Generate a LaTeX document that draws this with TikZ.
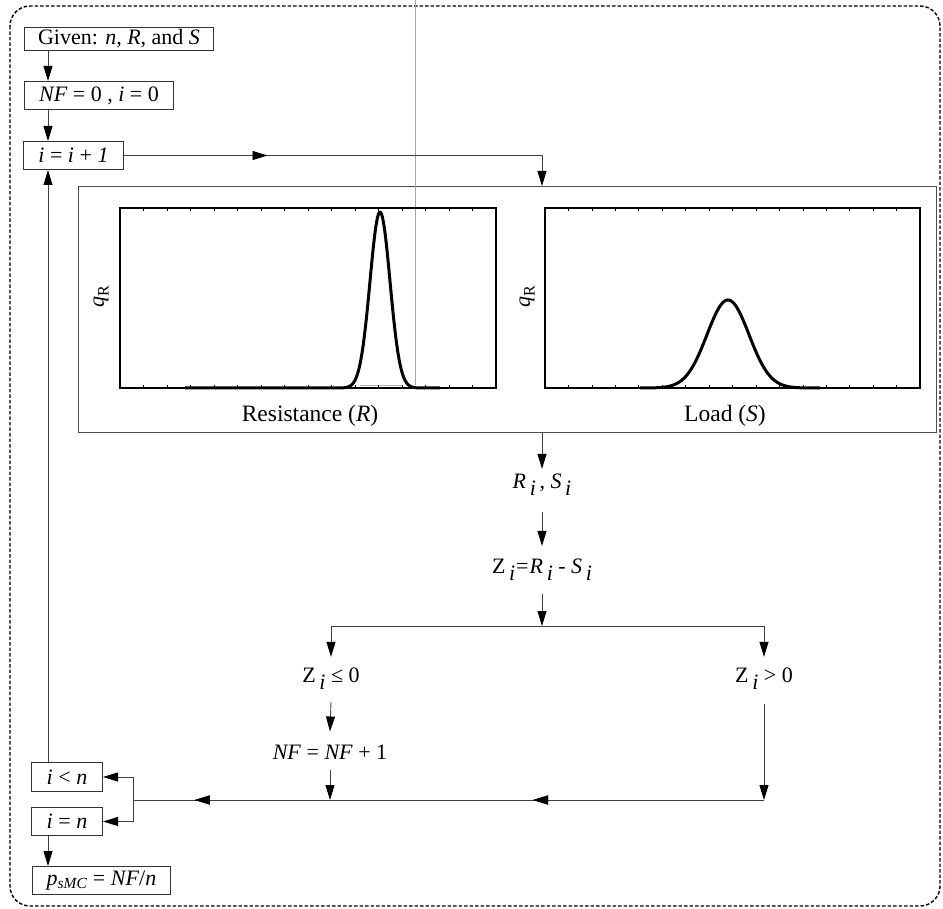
\documentclass[tikz,border=0pt]{standalone}
\usepackage{fontspec}
\setmainfont{Liberation Serif}
\usetikzlibrary{arrows.meta,decorations.markings}
\newcommand\fsz{\fontsize{22}{26}\selectfont}
\newcommand\loi{\raisebox{-0.33em}{\textit{i}}}
\newcommand\qlab{\textit{q}\raisebox{-0.22em}{\fontsize{16}{18}\selectfont R}}
\tikzset{
  tipA/.tip={Triangle[length=15pt,width=9pt,color=black]},
  conn/.style={draw=black!75, line width=0.9pt},
  arr/.style={conn, -tipA},
  fbox/.style={draw=black!80, line width=1pt, inner sep=0pt, font=\fsz, anchor=north west},
  lbl/.style={inner sep=0pt, font=\fsz},
  midarrow/.style={postaction={decorate}, decoration={markings, mark=at position #1 with {\arrow{tipA}}}},
  frame/.style={line width=2.6pt},
  curve/.style={line width=3pt, line join=round},
}
\begin{document}
\begin{tikzpicture}[x=1pt,y=-1pt]
\useasboundingbox (0,0) rectangle (943,909);
% outer dashed border
\draw[rounded corners=20pt, dash pattern=on 3.5pt off 2pt, line width=1.4pt] (10,6) rectangle (940,906);
% reference columns
\coordinate (cl) at (48,0);
\coordinate (xr) at (542,0);
% top boxes
\node[fbox, minimum width=189pt, minimum height=23pt] (given) at (24,27) {Given: \textit{n}, \textit{R}, and \textit{S}};
\node[fbox, minimum width=149pt, minimum height=28pt] (nf) at (24,81) {\textit{NF} = 0 , \textit{i} = 0};
\node[fbox, minimum width=100pt, minimum height=28pt] (i1) at (23,141) {\textit{i} = \textit{i} + \textit{1}};
% big box with the two plots
\node[draw=black!70, line width=0.8pt, inner sep=0pt, anchor=north west, minimum width=858pt, minimum height=246pt] (big) at (78,186) {};
% gray vertical line
\draw[black!35, line width=0.8pt] (415,0) -- (415,385);
% left plot
\draw[black!30, line width=0.8pt] (360,385) -- (403,385);
\draw[curve] plot[domain=185:440, samples=200] (\x, {388-176*exp(-((\x-380)/10)^2/2)});
\draw[frame] (120,208) rectangle (496,388);
\foreach \k in {1,...,15} {
  \draw[line width=0.6pt] (120+\k*23.5,208) -- ++(0,3);
  \draw[line width=0.6pt] (120+\k*23.5,388) -- ++(0,-3);
}
% right plot
\draw[curve] plot[domain=640:820, samples=200] (\x, {388-88*exp(-((\x-728)/21)^2/2)});
\draw[frame] (545,208) rectangle (920,388);
\foreach \k in {1,...,15} {
  \draw[line width=0.6pt] (545+\k*23.44,208) -- ++(0,3);
  \draw[line width=0.6pt] (545+\k*23.44,388) -- ++(0,-3);
}
\node[lbl, rotate=90] (ql) at (101,297) {\qlab};
\node[lbl, rotate=90] (qr) at (527,297) {\qlab};
\node[lbl, font=\fontsize{23.5}{27}\selectfont] (resl) at (310,416) {Resistance (\textit{R})};
\node[lbl, font=\fontsize{23.5}{27}\selectfont] (loadl) at (725,416) {Load (\textit{S})};
% middle column
\node[lbl] (rs) at (542,485) {\textit{R}\,\loi\,, \textit{S}\,\loi};
\node[lbl] (z) at (542,570) {Z\,\loi\kern1pt=\kern1pt\textit{R}\,\loi\ - \textit{S}\,\loi};
\coordinate (split) at (542,626);
\node[lbl] (zle) at (331,679) {Z\,\loi\ ≤ 0};
\node[lbl] (zgt) at (764,679) {Z\,\loi\ > 0};
\node[lbl] (nf1) at (330,752) {\textit{NF} = \textit{NF} + 1};
\coordinate (br) at (764,800);
\coordinate (bm) at (330,800);
\coordinate (jn) at (133,800);
% bottom boxes
\node[fbox, minimum width=71pt, minimum height=29pt] (iln) at (31,762) {\textit{i} < \textit{n}};
\node[fbox, minimum width=71pt, minimum height=28pt] (ien) at (31,807) {\textit{i} = \textit{n}};
\node[fbox, minimum width=138pt, minimum height=28pt] (ps) at (32,866) {\textit{p}\textsubscript{\textit{sMC}} = \textit{NF}/\textit{n}};
% connectors
\draw[arr] (given.south -| cl) -- (nf.north -| cl);
\draw[arr] (nf.south -| cl) -- (i1.north -| cl);
\draw[arr, midarrow=0.32] (i1.east) -| (big.north -| xr);
\draw[arr] (big.south -| xr) -- ([yshift=5pt]rs.north);
\draw[arr] ([yshift=-16pt]rs.south) -- ([yshift=13pt]z.north);
\draw[arr] ([yshift=-13pt]z.south) -- (split);
\draw[arr] (split) -| ([yshift=11pt]zle.north);
\draw[arr] (split) -| ([yshift=11pt]zgt.north);
\draw[arr] ([yshift=-12pt]zle.south) -- ([yshift=13pt]nf1.north);
\draw[arr] ([yshift=-11pt]nf1.south) -- (bm);
\draw[arr] ([yshift=-14pt]zgt.south) -- (br);
\draw[conn, midarrow=0.366, midarrow=0.902] (br) -- (jn);
\draw[arr] (jn) |- (iln.east);
\draw[arr] (jn) |- (ien.east);
\draw[arr] (ien.south -| cl) -- (ps.north -| cl);
\draw[arr] (iln.north -| cl) -- (i1.south -| cl);
\end{tikzpicture}
\end{document}
